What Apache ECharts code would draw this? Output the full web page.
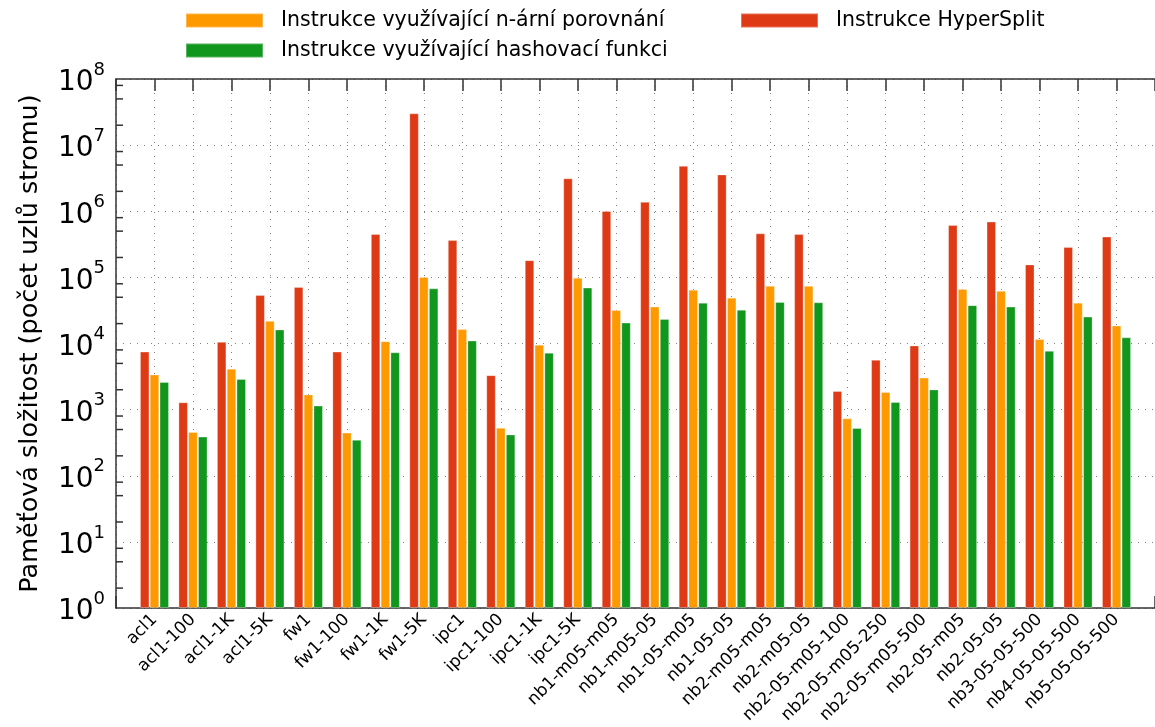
<!DOCTYPE html>
<html style="height: 100%">
    <head>
        <meta charset="utf-8">
    </head>
    <body style="height: 100%; margin: 0">
        <div id="container" style="height: 100%"></div>

        <script type="text/javascript" src="https://cdn.jsdelivr.net/npm/echarts@6/dist/echarts.min.js"></script>

        <script type="text/javascript">
var dom = document.getElementById("container");
var myChart = echarts.init(dom);

// benchmark rule sets
var categories = [
    'acl1', 'acl1-100', 'acl1-1K', 'acl1-5K', 'fw1', 'fw1-100', 'fw1-1K', 'fw1-5K',
    'ipc1', 'ipc1-100', 'ipc1-1K', 'ipc1-5K', 'nb1-m05-m05', 'nb1-m05-05', 'nb1-05-m05',
    'nb1-05-05', 'nb2-m05-m05', 'nb2-m05-05', 'nb2-05-m05-100', 'nb2-05-m05-250',
    'nb2-05-m05-500', 'nb2-05-m05', 'nb2-05-05', 'nb3-05-05-500', 'nb4-05-05-500', 'nb5-05-05-500'
];

// node counts
var hyperSplit = [
    7550, 1290, 10600, 54000, 71800, 7550, 452000, 30300000,
    366000, 3320, 182000, 3150000, 1010000, 1390000, 4860000,
    3610000, 463000, 452000, 1920, 5670,
    9330, 617000, 698000, 157000, 289000, 414000
];
var naryCompare = [
    3400, 460, 4160, 22000, 1700, 449, 10800, 101600,
    16500, 533, 9570, 99100, 32000, 36200, 65000,
    49400, 74500, 74500, 738, 1850,
    3050, 66500, 62500, 11700, 41500, 18700
];
var hashFunc = [
    2620, 391, 2900, 16300, 1150, 350, 7360, 68200,
    11100, 421, 7270, 70000, 20700, 23400, 41500,
    32400, 42500, 42000, 527, 1306,
    2020, 38000, 36200, 7740, 25500, 12400
];

var minorTickValues = [
    2, 5, 8, 20, 50, 80, 200, 500, 800, 2000, 5000, 8000,
    2e4, 5e4, 8e4, 2e5, 5e5, 8e5, 2e6, 5e6, 8e6, 2e7, 5e7, 8e7
];

var nameRed = 'Instrukce HyperSplit';
var nameOrange = 'Instrukce využívající n-ární porovnání';
var nameGreen = 'Instrukce využívající hashovací funkci';

// one empty slot on each side, like gnuplot's xrange
var axisCats = [' '].concat(categories, ['  ']);

function pad(arr) {
    return arr.map(function (v, i) { return [i + 1, v]; });
}

var dotted = { color: '#808080', width: 1, type: [1, 6] };
var barBorder = { borderColor: 'rgba(255,255,255,0.3)', borderWidth: 1 };

var option = {
    animation: false,
    textStyle: { fontFamily: 'DejaVu Sans', color: '#000' },
    legend: [{
        left: 185,
        top: 10,
        padding: 0,
        orient: 'vertical',
        itemWidth: 77,
        itemHeight: 14,
        itemGap: 9,
        icon: 'rect',
        data: [nameOrange, nameGreen],
        textStyle: { fontSize: 20.5, color: '#000', padding: [0, 0, 0, 13] }
    }, {
        left: 740,
        top: 10,
        padding: 0,
        itemWidth: 77,
        itemHeight: 14,
        icon: 'rect',
        data: [nameRed],
        textStyle: { fontSize: 20.5, color: '#000', padding: [0, 0, 0, 13] }
    }],
    grid: {
        left: 116,
        right: 0,
        top: 79,
        bottom: 119,
        containLabel: false,
        outerBoundsMode: 'none'
    },
    xAxis: [{
        type: 'category',
        data: axisCats,
        boundaryGap: false,
        axisLine: { lineStyle: { color: '#333', width: 1.5 } },
        axisTick: { inside: true, length: 12, interval: 0, lineStyle: { color: '#333', width: 1.5 } },
        axisLabel: { interval: 0, rotate: 45, fontSize: 17, color: '#000', margin: 9 },
        splitLine: { show: true, interval: 0, lineStyle: dotted }
    }, {
        type: 'category',
        position: 'top',
        data: axisCats,
        boundaryGap: false,
        axisLine: { lineStyle: { color: '#333', width: 1.5 } },
        axisTick: { inside: true, length: 12, interval: 0, lineStyle: { color: '#333', width: 1.5 } },
        axisLabel: { show: false },
        splitLine: { show: false }
    }],
    yAxis: {
        type: 'log',
        logBase: 10,
        min: 1,
        max: 1e8,
        interval: 1,
        splitNumber: 8,
        name: 'Paměťová složitost (počet uzlů stromu)',
        nameLocation: 'middle',
        nameGap: 73,
        nameTextStyle: { fontSize: 25.5, color: '#000' },
        axisLine: { show: true, lineStyle: { color: '#333', width: 1.5 } },
        axisTick: { inside: true, length: 12, lineStyle: { color: '#333', width: 1.5 } },
        splitLine: { show: true, lineStyle: dotted },
        axisLabel: {
            margin: 11,
            formatter: function (v) {
                return '{b|10}{s|' + Math.round(Math.log10(v)) + '}';
            },
            rich: {
                b: { fontSize: 28, lineHeight: 36, verticalAlign: 'bottom', color: '#000' },
                s: { fontSize: 18, lineHeight: 36, verticalAlign: 'top', color: '#000' }
            }
        }
    },
    series: [{
        name: nameRed,
        type: 'bar',
        barWidth: 9.5,
        barGap: '3%',
        itemStyle: Object.assign({ color: '#de3a15' }, barBorder),
        data: pad(hyperSplit)
    }, {
        name: nameOrange,
        type: 'bar',
        barWidth: 9.5,
        barGap: '3%',
        itemStyle: Object.assign({ color: '#ff9900' }, barBorder),
        data: pad(naryCompare)
    }, {
        name: nameGreen,
        type: 'bar',
        barWidth: 9.5,
        barGap: '3%',
        itemStyle: Object.assign({ color: '#11961e' }, barBorder),
        data: pad(hashFunc)
    }, {
        // minor ticks on the log axis at 2, 5 and 8 of each decade
        type: 'custom',
        silent: true,
        z: 5,
        encode: { x: 0, y: 1 },
        data: minorTickValues.map(function (v) { return [0, v]; }),
        renderItem: function (params, api) {
            var p = api.coord([api.value(0), api.value(1)]);
            return {
                type: 'line',
                shape: { x1: p[0], y1: p[1], x2: p[0] + 7, y2: p[1] },
                style: { stroke: '#333', lineWidth: 1.5 }
            };
        }
    }]
};

if (option && typeof option === 'object') {
    myChart.setOption(option);
}

        </script>
    </body>
</html>
